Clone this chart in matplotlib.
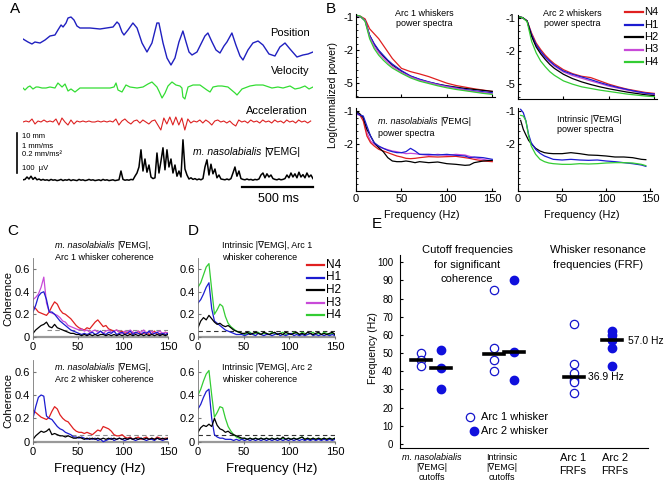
import numpy as np
import matplotlib.pyplot as plt
from matplotlib.lines import Line2D

plt.rcParams['font.family'] = ['Liberation Sans', 'DejaVu Sans']

W, H = 669, 482

RED = '#e02020'
BLUE = '#1c1cd0'
BLACK = '#000000'
MAGENTA = '#c84ad8'
GREEN = '#33cc33'
GRAY = '#8c8c8c'

# ---------------- panel A: example traces ----------------
pos_t = [0, 35, 63, 84, 120, 155, 190, 225, 246, 268, 282, 303, 317, 338, 359, 380, 401,
         472, 542, 634, 662, 676, 697, 711, 739, 774, 803, 838, 873, 908, 943, 957, 986,
         1014, 1042, 1070, 1098, 1126, 1148, 1169, 1190, 1225, 1260, 1281, 1302, 1331,
         1359, 1387, 1415, 1436, 1471, 1499, 1528, 1549, 1584, 1619, 1655, 1690, 1732,
         1774, 1809, 1845, 1880, 1929, 1971, 2007, 2042]
pos_mm = [6.5, 5.75, 5.25, 5.75, 5.5, 6.25, 7.25, 7.5, 8.75, 10, 9.5, 10.5, 11.75, 12,
          11.25, 9.75, 9.25, 9.25, 9, 9.5, 10.75, 10.25, 8.25, 7.5, 8.75, 10.5, 9.25, 5.5,
          3.25, 5.5, 10.5, 10.5, 5.5, 1.75, 0, 1.75, 5.75, 8.5, 5.75, 3.25, 2.5, 3.25,
          5.75, 7.25, 8, 5.75, 3.75, 3, 4.75, 5.75, 8, 5, 2.25, 1.25, 3.75, 5.5, 6, 5,
          2.75, 2.25, 4.5, 5.5, 4, 2, 2.5, 2.75, 3.25]

vel_t = [0, 14, 35, 49, 70, 92, 106, 134, 162, 190, 225, 246, 275, 296, 317, 338, 366,
         401, 472, 542, 613, 641, 655, 669, 697, 725, 753, 803, 845, 880, 908, 943, 957,
         979, 1000, 1021, 1049, 1077, 1105, 1119, 1126, 1140, 1162, 1197, 1246, 1295,
         1317, 1338, 1373, 1401, 1443, 1493, 1507, 1542, 1598, 1640, 1690, 1753, 1795,
         1831, 1880, 1915, 1950, 1985, 2014, 2042]
vel_mm_ms = [0, -0.05, 0.025, 0.05, -0.025, 0.025, 0.025, 0, 0, 0.025, 0, 0.125, 0.025,
             0.1, -0.075, -0.025, -0.1, 0, 0, 0, 0, 0.025, 0.125, -0.05, -0.1, 0.075,
             0.025, 0, 0.025, 0.1, 0.15, 0.025, -0.075, -0.25, -0.125, 0.05, 0.15, 0.075,
             0.05, 0, -0.225, -0.275, 0.025, 0.075, 0.075, -0.05, -0.1, 0.025, 0.05, 0.05,
             0.025, -0.125, -0.175, -0.025, 0.05, 0.075, 0.075, 0, 0.025, 0, 0.05, -0.025,
             0, 0.05, -0.025, 0.025]

# acceleration sampled every 21 ms
acc_dt = 21.1
acc_mm_ms2 = [0, 0.005, 0, 0.015, -0.01, 0.005, 0, 0.01, 0, 0.005, 0, 0.015, -0.015,
              0.02, 0, -0.015, 0.01, -0.01, 0.005, 0, 0.005, 0, 0.005, 0, 0, 0.005, 0,
              0.005, 0, 0.005, 0, 0.015, -0.015, 0.005, 0.015, 0, -0.01, 0.005, 0.01,
              -0.005, 0.01, 0, -0.01, 0.005, 0.01, -0.015, -0.04, 0.02, -0.01, 0.025,
              -0.015, 0.025, -0.015, 0.02, -0.04, 0.015, -0.005, 0.005, 0, 0.01, -0.005,
              0.01, 0, -0.015, 0.005, 0.01, 0, 0.005, -0.005, 0.005, -0.01, -0.02, 0.01,
              0, 0.005, -0.005, 0.01, 0, 0.005, -0.005, 0.01, 0, 0.005, -0.005, 0.01, 0,
              0.005, -0.005, 0.01, 0, 0.005, -0.005, 0.01, 0, 0.005, -0.005, 0.005]

# rectified EMG sampled every 14 ms
emg_dt = 14.08
emg_uv = [3, 4, 10, 5, 12, 4, 9, 3, 5, 2, 4, 2,
          3, 1, 4, 2, 3, 1, 2, 4, 1, 3, 2, 4, 1, 3, 2, 1, 4, 2, 3, 1, 2, 4, 2, 3, 1,
          2, 3, 1, 4, 2, 3, 1, 2, 3, 1, 2, 3,
          25, 4, 2, 3, 2, 4, 3, 12, 20, 35, 78, 25, 55, 22, 40, 10, 6, 8, 70, 20, 50,
          83, 28, 78, 35, 55, 20, 40, 12, 25, 10, 103, 30, 15, 5, 8, 4, 6, 3, 5, 3, 6,
          35, 53, 15, 42, 18, 30, 8, 15, 5, 4, 3, 5, 3, 6, 20, 35, 12, 25, 6, 4, 3, 5,
          3, 4, 2, 4, 3, 5, 15, 20, 8, 18, 10, 15, 6, 4, 3, 5, 3, 4, 6, 15, 8, 20, 10,
          18, 8, 22, 10, 16, 8, 20, 10, 15, 6]

# ---------------- panel B: power spectra ----------------
spec_f = [0, 5, 10, 15, 20, 25, 30, 35, 40, 50, 60, 70, 80, 90, 100, 110, 120, 130, 140, 150]
arc1_spec = {
    'N4': [-0.95, -0.97, -1.05, -1.35, -1.5, -1.65, -1.85, -2.05, -2.25, -2.55, -2.65, -2.72,
           -2.8, -2.9, -3.0, -3.07, -3.12, -3.17, -3.21, -3.25],
    'H1': [-0.95, -0.98, -1.1, -1.55, -1.8, -2.0, -2.15, -2.3, -2.42, -2.62, -2.78, -2.88,
           -2.96, -3.03, -3.09, -3.14, -3.19, -3.23, -3.26, -3.29],
    'H2': [-0.95, -0.98, -1.1, -1.55, -1.82, -2.02, -2.18, -2.32, -2.45, -2.64, -2.79, -2.89,
           -2.97, -3.03, -3.08, -3.12, -3.16, -3.19, -3.22, -3.25],
    'H3': [-0.95, -0.98, -1.1, -1.6, -1.88, -2.08, -2.23, -2.37, -2.49, -2.67, -2.81, -2.91,
           -2.98, -3.05, -3.11, -3.16, -3.21, -3.25, -3.29, -3.32],
    'H4': [-0.93, -0.97, -1.12, -1.65, -1.95, -2.15, -2.3, -2.43, -2.54, -2.7, -2.84, -2.94,
           -3.01, -3.08, -3.14, -3.19, -3.23, -3.27, -3.31, -3.34],
}
arc2_spec = {
    'N4': [-0.95, -0.98, -1.08, -1.45, -1.75, -1.95, -2.12, -2.26, -2.38, -2.56, -2.68, -2.76,
           -2.8, -2.9, -3.0, -3.08, -3.15, -3.2, -3.25, -3.28],
    'H1': [-0.95, -0.98, -1.08, -1.5, -1.8, -2.0, -2.17, -2.3, -2.42, -2.6, -2.7, -2.78,
           -2.86, -2.95, -3.03, -3.1, -3.16, -3.22, -3.27, -3.3],
    'H2': [-0.95, -0.98, -1.08, -1.55, -1.87, -2.08, -2.25, -2.4, -2.52, -2.7, -2.83, -2.93,
           -3.01, -3.08, -3.14, -3.19, -3.24, -3.28, -3.32, -3.35],
    'H3': [-0.95, -0.98, -1.08, -1.52, -1.83, -2.03, -2.2, -2.33, -2.45, -2.63, -2.74, -2.82,
           -2.9, -2.98, -3.06, -3.12, -3.18, -3.23, -3.28, -3.31],
    'H4': [-0.95, -0.98, -1.1, -1.7, -2.05, -2.3, -2.47, -2.62, -2.73, -2.9, -3.0, -3.08,
           -3.13, -3.18, -3.22, -3.26, -3.3, -3.33, -3.36, -3.38],
}
naso_f = [0, 4, 8, 12, 16, 20, 25, 30, 35, 40, 45, 50, 55, 60, 65, 70, 80, 90, 100, 110,
          120, 125, 130, 140, 150]
naso_spec = {
    'N4': [-1.05, -1.1, -1.3, -1.75, -1.95, -2.05, -2.15, -2.2, -2.25, -2.3, -2.35, -2.38,
           -2.42, -2.43, -2.42, -2.4, -2.37, -2.38, -2.37, -2.36, -2.4, -2.42, -2.45, -2.5, -2.52],
    'H1': [-1.05, -1.12, -1.15, -1.45, -1.75, -1.95, -2.05, -2.12, -2.18, -2.22, -2.25, -2.25,
           -2.22, -2.12, -2.2, -2.3, -2.3, -2.32, -2.3, -2.33, -2.35, -2.4, -2.38, -2.4, -2.45],
    'H2': [-1.0, -1.08, -1.2, -1.55, -1.75, -1.95, -2.1, -2.22, -2.4, -2.5, -2.52, -2.52,
           -2.5, -2.52, -2.55, -2.52, -2.55, -2.53, -2.58, -2.6, -2.63, -2.62, -2.55, -2.5, -2.48],
    'H3': [-1.1, -1.12, -1.25, -1.65, -1.9, -2.0, -2.08, -2.12, -2.16, -2.2, -2.22, -2.25,
           -2.28, -2.27, -2.28, -2.3, -2.33, -2.3, -2.33, -2.3, -2.32, -2.36, -2.4, -2.45, -2.5],
}
intr_f = [3, 6, 9, 12, 15, 20, 25, 30, 35, 40, 50, 60, 70, 80, 90, 100, 110, 120, 130, 140, 145]
intr_spec = {
    'H2': [-1.28, -1.55, -1.72, -1.88, -1.98, -2.12, -2.2, -2.25, -2.27, -2.28, -2.28, -2.25,
           -2.28, -2.32, -2.33, -2.35, -2.38, -2.38, -2.4, -2.45, -2.46],
    'H1': [-0.95, -1.05, -1.3, -1.7, -1.95, -2.15, -2.27, -2.35, -2.4, -2.45, -2.47, -2.45,
           -2.47, -2.48, -2.47, -2.5, -2.52, -2.55, -2.58, -2.62, -2.66],
    'H4': [-1.13, -1.15, -1.3, -1.75, -2.05, -2.3, -2.45, -2.52, -2.56, -2.58, -2.6, -2.6,
           -2.58, -2.59, -2.58, -2.56, -2.55, -2.55, -2.56, -2.6, -2.64],
}

# ---------------- panels C, D: coherence ----------------
coh_f = list(range(0, 151, 3))
naso_arc1_coh = {
    'N4': [0.27, 0.25, 0.22, 0.21, 0.20, 0.19, 0.22, 0.27, 0.31, 0.29, 0.24, 0.21, 0.20, 0.18,
           0.16, 0.13, 0.10, 0.08, 0.07, 0.06, 0.08, 0.07, 0.10, 0.13, 0.15, 0.12, 0.09, 0.10,
           0.07, 0.06, 0.05, 0.06, 0.04, 0.05, 0.03, 0.04, 0.02, 0.04, 0.03, 0.05, 0.02, 0.03,
           0.04, 0.02, 0.03, 0.05, 0.02, 0.03, 0.02, 0.04, 0.03],
    'H3': [0.33, 0.35, 0.38, 0.44, 0.53, 0.30, 0.22, 0.21, 0.20, 0.19, 0.17, 0.14, 0.13, 0.10,
           0.09, 0.08, 0.07, 0.06, 0.07, 0.05, 0.06, 0.04, 0.05, 0.06, 0.04, 0.05, 0.03, 0.05,
           0.06, 0.04, 0.05, 0.06, 0.04, 0.03, 0.05, 0.04, 0.06, 0.04, 0.03, 0.05, 0.04, 0.06,
           0.03, 0.04, 0.05, 0.03, 0.04, 0.05, 0.03, 0.04, 0.03],
    'H1': [0.22, 0.28, 0.36, 0.39, 0.40, 0.33, 0.22, 0.22, 0.20, 0.17, 0.14, 0.12, 0.10, 0.08,
           0.06, 0.05, 0.04, 0.03, 0.02, 0.03, 0.02, 0.03, 0.04, 0.02, 0.03, 0.05, 0.03, 0.02,
           0.04, 0.03, 0.05, 0.02, 0.03, 0.04, 0.02, 0.03, 0.05, 0.02, 0.04, 0.03, 0.02, 0.04,
           0.03, 0.05, 0.02, 0.03, 0.04, 0.02, 0.03, 0.02, 0.03],
    'H2': [0.03, 0.06, 0.08, 0.10, 0.11, 0.13, 0.09, 0.08, 0.11, 0.08, 0.07, 0.06, 0.05, 0.04,
           0.03, 0.03, 0.02, 0.02, 0.01, 0.02, 0.01, 0.02, 0.01, 0.02, 0.01, 0.02, 0.02, 0.01,
           0.02, 0.01, 0.02, 0.01, 0.02, 0.01, 0.02, 0.01, 0.02, 0.01, 0.02, 0.01, 0.02, 0.01,
           0.02, 0.01, 0.02, 0.01, 0.02, 0.01, 0.02, 0.01, 0.02],
}
naso_arc2_coh = {
    'N4': [0.27, 0.25, 0.23, 0.21, 0.20, 0.19, 0.21, 0.26, 0.30, 0.28, 0.23, 0.20, 0.18, 0.17,
           0.14, 0.11, 0.09, 0.08, 0.08, 0.07, 0.08, 0.07, 0.06, 0.08, 0.10, 0.09, 0.13, 0.12,
           0.11, 0.09, 0.06, 0.05, 0.05, 0.06, 0.04, 0.03, 0.04, 0.02, 0.03, 0.04, 0.02, 0.03,
           0.04, 0.02, 0.03, 0.02, 0.04, 0.03, 0.02, 0.03, 0.03],
    'H1': [0.20, 0.30, 0.38, 0.40, 0.39, 0.22, 0.20, 0.19, 0.16, 0.13, 0.11, 0.10, 0.08, 0.07,
           0.06, 0.04, 0.04, 0.03, 0.04, 0.03, 0.02, 0.03, 0.02, 0.03, 0.01, 0.02, 0.00, 0.01,
           0.02, 0.03, 0.01, 0.02, 0.03, 0.02, 0.01, 0.02, 0.03, 0.02, 0.01, 0.02, 0.03, 0.02,
           0.01, 0.02, 0.02, 0.01, 0.03, 0.02, 0.01, 0.02, 0.02],
    'H2': [0.02, 0.05, 0.07, 0.09, 0.08, 0.09, 0.11, 0.06, 0.07, 0.06, 0.05, 0.05, 0.04, 0.05,
           0.04, 0.03, 0.03, 0.04, 0.03, 0.02, 0.03, 0.02, 0.03, 0.02, 0.03, 0.02, 0.03, 0.02,
           0.03, 0.02, 0.03, 0.02, 0.03, 0.02, 0.03, 0.02, 0.03, 0.02, 0.03, 0.02, 0.03, 0.02,
           0.03, 0.02, 0.03, 0.02, 0.03, 0.02, 0.03, 0.02, 0.03],
}
intr_arc1_coh = {
    'H4': [0.44, 0.48, 0.55, 0.62, 0.65, 0.42, 0.20, 0.24, 0.29, 0.27, 0.18, 0.12, 0.09, 0.07,
           0.05, 0.04, 0.03, 0.02, 0.03, 0.04, 0.02, 0.03, 0.04, 0.02, 0.03, 0.03, 0.02, 0.04,
           0.03, 0.02, 0.03, 0.04, 0.02, 0.03, 0.02, 0.04, 0.03, 0.02, 0.04, 0.03, 0.02, 0.03,
           0.04, 0.02, 0.03, 0.02, 0.04, 0.03, 0.02, 0.03, 0.02],
    'H1': [0.30, 0.33, 0.38, 0.44, 0.48, 0.25, 0.14, 0.12, 0.10, 0.08, 0.06, 0.05, 0.04, 0.03,
           0.02, 0.02, 0.02, 0.01, 0.02, 0.03, 0.02, 0.01, 0.03, 0.02, 0.01, 0.02, 0.02, 0.01,
           0.02, 0.03, 0.01, 0.02, 0.01, 0.02, 0.03, 0.01, 0.02, 0.01, 0.02, 0.01, 0.02, 0.03,
           0.01, 0.02, 0.01, 0.02, 0.01, 0.02, 0.01, 0.02, 0.01],
    'H2': [0.08, 0.14, 0.17, 0.15, 0.19, 0.16, 0.13, 0.11, 0.12, 0.10, 0.09, 0.10, 0.08, 0.06,
           0.05, 0.04, 0.03, 0.03, 0.04, 0.02, 0.03, 0.04, 0.03, 0.02, 0.04, 0.03, 0.02, 0.03,
           0.04, 0.02, 0.03, 0.02, 0.04, 0.03, 0.02, 0.03, 0.04, 0.02, 0.03, 0.02, 0.04, 0.03,
           0.02, 0.03, 0.04, 0.02, 0.03, 0.02, 0.03, 0.04, 0.02],
}
intr_arc2_coh = {
    'H4': [0.40, 0.45, 0.52, 0.58, 0.61, 0.40, 0.21, 0.25, 0.30, 0.29, 0.20, 0.13, 0.09, 0.06,
           0.04, 0.03, 0.02, 0.03, 0.02, 0.03, 0.02, 0.03, 0.02, 0.03, 0.02, 0.03, 0.02, 0.03,
           0.02, 0.03, 0.02, 0.03, 0.02, 0.03, 0.02, 0.03, 0.02, 0.03, 0.04, 0.02, 0.03, 0.02,
           0.03, 0.02, 0.03, 0.02, 0.03, 0.02, 0.03, 0.02, 0.03],
    'H1': [0.28, 0.32, 0.38, 0.43, 0.45, 0.20, 0.06, 0.04, 0.03, 0.03, 0.02, 0.02, 0.02, 0.01,
           0.02, 0.01, 0.02, 0.01, 0.02, 0.01, 0.02, 0.01, 0.02, 0.01, 0.02, 0.01, 0.02, 0.01,
           0.02, 0.01, 0.02, 0.01, 0.02, 0.01, 0.02, 0.01, 0.02, 0.01, 0.02, 0.01, 0.02, 0.01,
           0.02, 0.01, 0.02, 0.01, 0.02, 0.01, 0.02, 0.01, 0.02],
    'H2': [0.08, 0.12, 0.14, 0.13, 0.15, 0.13, 0.20, 0.14, 0.11, 0.10, 0.08, 0.09, 0.07, 0.06,
           0.05, 0.04, 0.03, 0.03, 0.02, 0.03, 0.02, 0.03, 0.02, 0.03, 0.02, 0.03, 0.02, 0.03,
           0.02, 0.03, 0.02, 0.04, 0.02, 0.03, 0.02, 0.03, 0.02, 0.03, 0.04, 0.02, 0.03, 0.02,
           0.03, 0.02, 0.03, 0.02, 0.03, 0.02, 0.03, 0.02, 0.03],
}
naso_sig = 0.06
intr_sig = 0.055

# ---------------- panel E: cutoff and resonance frequencies ----------------
naso_cut_arc1 = [50, 46, 43]
naso_cut_arc2 = [52, 42, 30]
intr_cut_arc1 = [85, 53, 46, 40]
intr_cut_arc2 = [90, 50.5, 35]
frf_arc1 = [66, 44, 38.8, 35, 34, 28]
frf_arc2 = [62, 60, 57, 57, 53, 43]

COLORS = {'N4': RED, 'H1': BLUE, 'H2': BLACK, 'H3': MAGENTA, 'H4': GREEN}
LABELS = ['N4', 'H1', 'H2', 'H3', 'H4']


def box(x0, y0, x1, y1):
    return [x0 / W, 1 - y1 / H, (x1 - x0) / W, (y1 - y0) / H]


fig = plt.figure(figsize=(W / 100, H / 100), dpi=100)
renderer = fig.canvas.get_renderer()


def ftext(x, y, s, **kw):
    kw.setdefault('va', 'center')
    return fig.text(x / W, 1 - y / H, s, **kw)


def fline(x0, x1, y0, y1, **kw):
    fig.add_artist(Line2D([x0 / W, x1 / W], [1 - y0 / H, 1 - y1 / H],
                          transform=fig.transFigure, **kw))


def mixed(x, y, italic, rest, fs):
    """Italic species name followed by upright text, starting at x."""
    t1 = ftext(x, y, italic, fontsize=fs, style='italic')
    w1 = t1.get_window_extent(renderer).width
    ftext(x + w1 + fs * 0.35, y, rest, fontsize=fs)


# ---- A ----
axA = fig.add_axes(box(23, 10, 313, 205))
axA.set_xlim(0, 2042)
axA.set_ylim(0, 4.875)
axA.axis('off')
axA.plot(pos_t, 3.5 + np.array(pos_mm) / 10, color='#2020c0', lw=1.0)
axA.plot(vel_t, 2.925 + np.array(vel_mm_ms), color='#33dd33', lw=0.9)
acc_t = np.arange(len(acc_mm_ms2)) * acc_dt
axA.plot(acc_t, 2.075 + np.array(acc_mm_ms2) / 0.2, color='#dd2222', lw=0.8)
emg_t = np.arange(len(emg_uv)) * emg_dt
axA.plot(emg_t, 0.6 + np.array(emg_uv) / 100, color='k', lw=1.1)
axA.plot([-42, -42], [0.8, 1.8], color='k', lw=1.2, clip_on=False)
axA.plot([1542, 2042], [0.45, 0.45], color='k', lw=1.6, clip_on=False)

ftext(10, 9, 'A', fontsize=11)
ftext(310, 33, 'Position', fontsize=8, ha='right')
ftext(310, 71, 'Velocity', fontsize=8, ha='right')
ftext(308, 111, 'Acceleration', fontsize=8, ha='right')
for yy, s in zip([137, 146, 155, 168], ['10 mm', '1 mm/ms', '0.2 mm/ms²', '100  µV']):
    ftext(22, yy, s, fontsize=5.5)
mixed(193, 152, 'm. nasolabialis', '|∇EMG|', 7.5)
ftext(278, 199, '500 ms', fontsize=9, ha='center')

# ---- B ----
def style_b(ax, ylim, yticks, ylabels, xlabels):
    ax.set_xlim(0, 153)
    ax.set_ylim(*ylim)
    ax.spines['top'].set_visible(False)
    ax.spines['right'].set_visible(False)
    ax.set_yticks(yticks)
    ax.set_yticklabels(ylabels)
    ax.set_yticks(np.arange(-3.4, -0.9, 0.2), minor=True)
    ax.set_xticks([0, 50, 100, 150])
    if not xlabels:
        ax.set_xticklabels([])
    ax.tick_params(direction='in', length=2.5, labelsize=8, pad=2)
    ax.tick_params(which='minor', direction='in', length=1.5)


axB1 = fig.add_axes(box(356, 14, 495, 97))
for k in ['N4', 'H2', 'H1', 'H3', 'H4']:
    axB1.plot(spec_f, arc1_spec[k], color=COLORS[k], lw=0.9)
style_b(axB1, (-3.42, -0.9), [-1, -2, -3], ['-1', '-2', '-5'], False)

axB2 = fig.add_axes(box(518, 15, 657, 99))
for k in ['N4', 'H3', 'H1', 'H2', 'H4']:
    axB2.plot(spec_f, arc2_spec[k], color=COLORS[k], lw=0.9)
style_b(axB2, (-3.45, -0.9), [-1, -2, -3], ['-1', '-2', '-5'], False)

axB3 = fig.add_axes(box(356, 108, 495, 191))
for k in ['H3', 'N4', 'H2', 'H1']:
    axB3.plot(naso_f, naso_spec[k], color=COLORS[k], lw=0.9)
style_b(axB3, (-2.72, -0.91), [-1, -2], ['-1', '-2'], True)

axB4 = fig.add_axes(box(518, 108, 652, 191))
for k in ['H2', 'H1', 'H4']:
    axB4.plot(intr_f, intr_spec[k], color=COLORS[k], lw=0.9)
style_b(axB4, (-2.7, -0.91), [-1, -2], ['-1', '-2'], True)
axB4.set_xlim(0, 152)

ftext(326, 9, 'B', fontsize=11)
ftext(424, 13, 'Arc 1 whiskers', fontsize=6.5, ha='center')
ftext(424, 24, 'power spectra', fontsize=6.5, ha='center')
ftext(572, 13, 'Arc 2 whiskers', fontsize=6.5, ha='center')
ftext(572, 24, 'power spectra', fontsize=6.5, ha='center')
mixed(378, 122, 'm. nasolabialis', '|∇EMG|', 6.5)
ftext(378, 133, 'power spectra', fontsize=6.5)
ftext(557, 119, 'Intrinsic |∇EMG|', fontsize=6.5)
ftext(557, 130, 'power spectra', fontsize=6.5)
ftext(333, 95, 'Log(normalized power)', fontsize=7.5, rotation=90, ha='center')
ftext(422, 215, 'Frequency (Hz)', fontsize=7.8, ha='center')
ftext(582, 215, 'Frequency (Hz)', fontsize=7.8, ha='center')
for i, k in enumerate(LABELS):
    yy = 12 + i * 12.5
    fline(625, 643, yy, yy, color=COLORS[k], lw=1.6)
    ftext(644, yy, k, fontsize=8)

# ---- C, D ----
def style_c(ax):
    ax.set_xlim(0, 150)
    ax.set_ylim(-0.02, 0.7)
    ax.spines['top'].set_visible(False)
    ax.spines['right'].set_visible(False)
    ax.spines['left'].set_color('#777777')
    ax.spines['left'].set_linewidth(0.6)
    ax.spines['bottom'].set_visible(False)
    ax.axhline(0, color='#999999', lw=1.6, zorder=0)
    ax.set_xticks([0, 50, 100, 150])
    ax.set_yticks([0, 0.2, 0.4, 0.6])
    ax.set_yticklabels(['0', '0.2', '0.4', '0.6'])
    ax.tick_params(direction='in', length=2, labelsize=8, pad=2, color='#777777')


def plot_coh(ax, data, sig, sig_start, sig_color):
    ax.plot([sig_start, 150], [sig, sig], color=sig_color, lw=0.8, ls=(0, (4, 3)))
    for k, v in data.items():
        ax.plot(coh_f, v, color=COLORS[k], lw=0.9)
    style_c(ax)


axC1 = fig.add_axes(box(33, 258, 168, 339))
plot_coh(axC1, naso_arc1_coh, naso_sig, 15, GRAY)
axC2 = fig.add_axes(box(33, 360, 168, 444))
plot_coh(axC2, naso_arc2_coh, naso_sig, 25, GRAY)
axD1 = fig.add_axes(box(198, 258, 335, 339))
plot_coh(axD1, intr_arc1_coh, intr_sig, 0, '#333333')
axD2 = fig.add_axes(box(198, 360, 335, 444))
plot_coh(axD2, intr_arc2_coh, intr_sig, 0, '#333333')

ftext(7, 231, 'C', fontsize=11)
ftext(188, 231, 'D', fontsize=11)
mixed(55, 246, 'm. nasolabialis', '|∇EMG|,', 6.5)
ftext(104, 257, 'Arc 1 whisker coherence', fontsize=6.5, ha='center')
mixed(55, 368, 'm. nasolabialis', '|∇EMG|,', 6.5)
ftext(104, 379, 'Arc 2 whisker coherence', fontsize=6.5, ha='center')
ftext(222, 246, 'Intrinsic |∇EMG|, Arc 1', fontsize=6.5)
ftext(222, 257, 'whisker coherence', fontsize=6.5)
ftext(222, 368, 'Intrinsic |∇EMG|, Arc 2', fontsize=6.5)
ftext(222, 379, 'whisker coherence', fontsize=6.5)
ftext(8, 298, 'Coherence', fontsize=8, rotation=90, ha='center')
ftext(8, 400, 'Coherence', fontsize=8, rotation=90, ha='center')
ftext(100, 469, 'Frequency (Hz)', fontsize=9.5, ha='center')
ftext(272, 469, 'Frequency (Hz)', fontsize=9.5, ha='center')
for i, k in enumerate(LABELS):
    yy = 265 + i * 12.5
    fline(307, 324, yy, yy, color=COLORS[k], lw=1.6)
    ftext(326, yy, k, fontsize=8.5)

# ---- E ----
axE = fig.add_axes(box(400, 255, 648, 448))
axE.set_xlim(0, 4.51)
axE.set_ylim(-2.2, 104)
groups = [(0.38, naso_cut_arc1, False), (0.75, naso_cut_arc2, True),
          (1.71, intr_cut_arc1, False), (2.07, intr_cut_arc2, True),
          (3.16, frf_arc1, False), (3.85, frf_arc2, True)]
for xg, vals, filled in groups:
    if filled:
        axE.plot([xg] * len(vals), vals, 'o', color='#1010dd', ms=6, zorder=2)
    else:
        axE.plot([xg] * len(vals), vals, 'o', mfc='white', mec='#1515cc', mew=0.9,
                 ms=6, zorder=2)
    m = np.median(vals)
    axE.plot([xg - 0.18, xg + 0.18], [m, m], color='k', lw=2.6, zorder=3)
axE.spines['top'].set_visible(False)
axE.spines['right'].set_visible(False)
axE.set_xticks([])
axE.set_yticks(np.arange(0, 101, 10))
axE.tick_params(direction='in', length=2.5, labelsize=7, pad=5)
axE.plot([1.27], [14.9], 'o', mfc='white', mec='#1515cc', mew=0.9, ms=6)
axE.plot([1.34], [7.2], 'o', color='#1010dd', ms=6)

ftext(372, 224, 'E', fontsize=11)
ftext(373, 348, 'Frequency (Hz)', fontsize=7.5, rotation=90, ha='center')
ftext(467, 250, 'Cutoff frequencies', fontsize=8, ha='center')
ftext(467, 265, 'for significant', fontsize=8, ha='center')
ftext(467, 279, 'coherence', fontsize=8, ha='center')
ftext(598, 250, 'Whisker resonance', fontsize=8, ha='center')
ftext(598, 265, 'frequencies (FRF)', fontsize=8, ha='center')
ftext(481, 417, 'Arc 1 whisker', fontsize=8)
ftext(481, 431, 'Arc 2 whisker', fontsize=8)
ftext(628, 341, '%.1f Hz' % np.median(frf_arc2), fontsize=7.5)
ftext(588, 377, '%.1f Hz' % np.median(frf_arc1), fontsize=7.5)
ftext(432, 457, 'm. nasolabialis', fontsize=6.5, style='italic', ha='center')
ftext(432, 468, '|∇EMG|', fontsize=6.5, ha='center')
ftext(432, 478, 'cutoffs', fontsize=6.5, ha='center')
ftext(502, 457, 'Intrinsic', fontsize=6.5, ha='center')
ftext(502, 468, '|∇EMG|', fontsize=6.5, ha='center')
ftext(502, 478, 'cutoffs', fontsize=6.5, ha='center')
ftext(573, 458, 'Arc 1', fontsize=8, ha='center')
ftext(573, 471, 'FRFs', fontsize=8, ha='center')
ftext(615, 458, 'Arc 2', fontsize=8, ha='center')
ftext(615, 471, 'FRFs', fontsize=8, ha='center')

fig.savefig('out.png', dpi=100, facecolor='white')
